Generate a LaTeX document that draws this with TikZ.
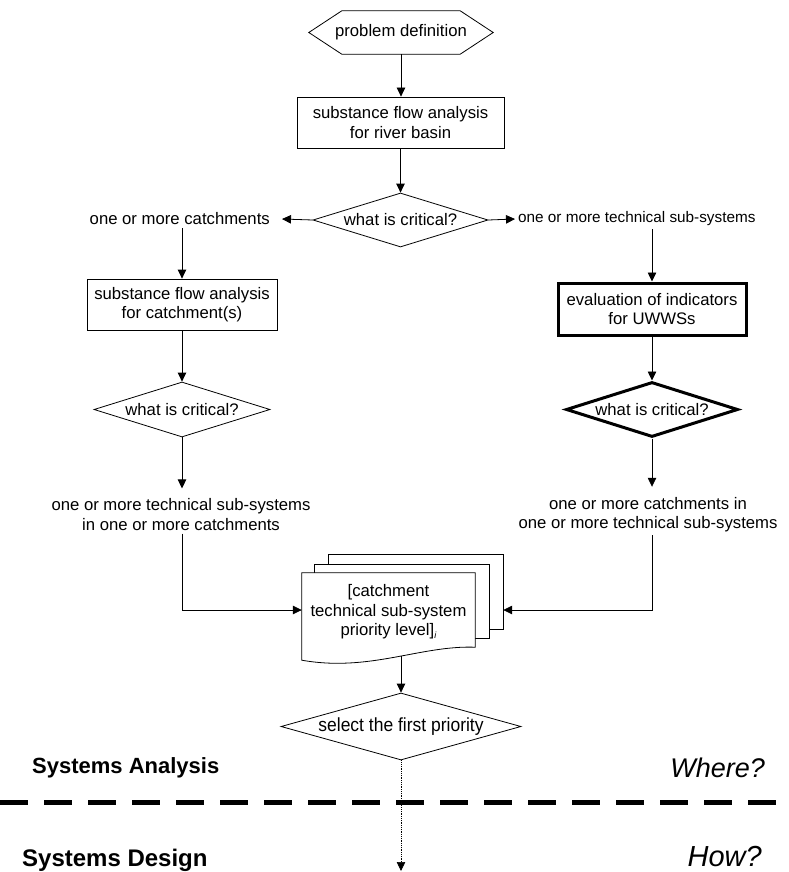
\documentclass[tikz,border=0pt]{standalone}
\usepackage{fontspec}
\setmainfont{Liberation Sans}
\usetikzlibrary{shapes.geometric,arrows.meta}
\begin{document}
\begin{tikzpicture}[x=1pt,y=-1pt,
  font=\fontsize{16.7}{19.5}\selectfont,
  arr/.style={-{Triangle[length=9pt,width=8.5pt]}, line width=0.8pt},
  ln/.style={line width=0.8pt},
  boxn/.style={draw, line width=0.8pt, rectangle, inner sep=0pt, align=center},
  thickbox/.style={boxn, line width=3pt},
  dia/.style={draw, line width=0.8pt, diamond, inner sep=0pt},
  lbl/.style={inner xsep=0pt, inner ysep=3pt, align=center},
  page/.style={rectangle, inner sep=0pt, align=center},
]
\useasboundingbox (0,0) rectangle (789,872);

% nodes
\node[page, minimum width=184pt, minimum height=43pt] (pd) at (401,32.5) {problem definition};
\draw[ln] (pd.west) -- ([xshift=33pt]pd.north west) -- ([xshift=-33pt]pd.north east) -- (pd.east)
  -- ([xshift=-33pt]pd.south east) -- ([xshift=33pt]pd.south west) -- cycle;

\node[boxn, minimum width=207pt, minimum height=51pt] (b1) at (400.5,122.5) {substance flow analysis\\for river basin};
\node[dia, aspect=3.24, minimum width=175pt, minimum height=54pt] (d1) at (400.5,220) {what is critical?};

\node[lbl, anchor=east, inner xsep=12pt] (lc) at (282,219) {one or more catchments};
\node[lbl, anchor=west, inner xsep=3pt, font=\fontsize{15.3}{19}\selectfont] (rc) at (515,219) {one or more technical sub-systems};

\node[boxn, minimum width=190pt, minimum height=51pt] (b2) at (182,304.5) {substance flow analysis\\for catchment(s)};
\node[dia, aspect=3.2, minimum width=176pt, minimum height=55pt] (d2) at (182,409.5) {what is critical?};
\node[lbl] (lt) at (181,514.5) {one or more technical sub-systems\\in one or more catchments};

\node[thickbox, minimum width=188pt, minimum height=52pt] (b3) at (652,309) {evaluation of indicators\\for UWWSs};
\node[dia, line width=3pt, aspect=3.13, minimum width=172pt, minimum height=55pt] (d3) at (652,409.5) {what is critical?};
\node[lbl] (rt) at (648,514.5) {one or more catchments in\\one or more technical sub-systems};

\node[page, minimum width=174pt, minimum height=74pt] (p3) at (416,592) {};
\node[page, minimum width=174pt, minimum height=73pt] (p2) at (402,601.5) {};
\node[page, minimum width=173pt, minimum height=74pt] (doc) at (388.5,610) {};

\node[dia, aspect=3.58, minimum width=240pt, minimum height=67pt] (d4) at (401,726.5)
  {\fontsize{19}{21}\selectfont\scalebox{0.92}[1]{select the first priority}};

\coordinate (endpt) at (401,871);
\coordinate (dl) at (0,802);
\coordinate (dr) at (789,802);

% connectors
\draw[arr] (pd.south) -- (pd.south |- b1.north);
\draw[arr] (b1.south) -- (d1.north);
\draw[arr] (d1.west) -- (lc.east);
\draw[arr] (d1.east) -- (rc.west);
\draw[arr] (lc.south -| b2.north) -- (b2.north);
\draw[arr] (b2.south) -- (d2.north);
\draw[arr, shorten >=7pt] (d2.south) -- (d2.south |- lt.north);
\draw[arr] (lt.south -| d2.south) |- (doc.west);
\draw[arr] (rc.south -| b3.north) -- (b3.north);
\draw[arr] (b3.south) -- (d3.north);
\draw[arr, shorten >=7pt] (d3.south) -- (d3.south |- rt.north);
\draw[arr] (rt.south -| d3.south) |- (doc.west -| p3.east);

% document stack
\filldraw[ln, fill=white] (p3.north west) rectangle (p3.south east);
\filldraw[ln, fill=white] (p2.north west) rectangle (p2.south east);
\filldraw[ln, fill=white] (doc.north west) -- (doc.north east) -- (doc.south east)
  .. controls +(-55,-2) and +(68,12) .. ([yshift=-13pt]doc.south west) -- cycle;
\node[page, minimum width=173pt, minimum height=74pt, text depth=0pt] (doctext) at (doc.center)
  {[catchment\\technical sub-system\\priority level]\raisebox{-3pt}{\fontsize{9}{9}\selectfont\itshape i}};

\draw[arr, shorten <=8.5pt] (doc.south -| d4.north) -- (d4.north);
\draw[arr, densely dotted, line width=0.6pt] (d4.south) -- (endpt);

\draw[line width=5pt, dash pattern=on 28pt off 16pt] (dl) -- (dr);

\node[anchor=west, inner sep=0pt, font=\fontsize{22}{24}\selectfont\bfseries] (sa) at (32,768) {Systems Analysis};
\node[anchor=west, inner sep=0pt, font=\fontsize{24}{26}\selectfont\bfseries] (sd) at (22,860) {Systems Design};
\node[anchor=east, inner sep=0pt, font=\fontsize{27}{29}\selectfont\itshape] (wh) at (765,768) {Where?};
\node[anchor=east, inner sep=0pt, font=\fontsize{29}{31}\selectfont\itshape] (hw) at (762,857) {How?};
\end{tikzpicture}
\end{document}
